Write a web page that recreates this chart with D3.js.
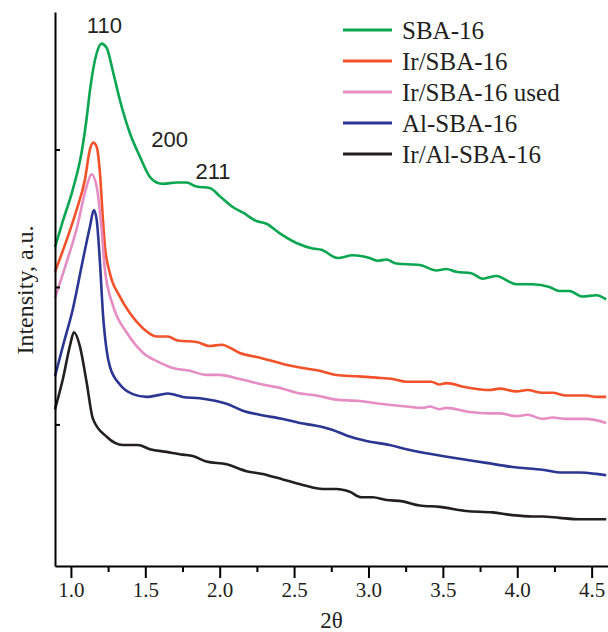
<!DOCTYPE html>
<html>
<head>
<meta charset="utf-8">
<script src="https://cdn.jsdelivr.net/npm/d3@7"></script>
<style>
  body { margin: 0; background: #fff; }
  svg { display: block; }
</style>
</head>
<body>
<svg width="608" height="632"></svg>
<script>
// [2theta, intensity], intensity in a.u.
const sba16 = [
  [0.893, 2.29], [0.946, 2.48], [1.013, 2.71], [1.072, 2.98], [1.105, 3.22], [1.128, 3.43],
  [1.173, 3.70], [1.206, 3.77], [1.240, 3.74], [1.284, 3.56], [1.329, 3.36], [1.396, 3.12],
  [1.463, 2.95], [1.531, 2.80], [1.576, 2.76], [1.620, 2.75], [1.710, 2.76], [1.777, 2.76],
  [1.844, 2.73], [1.933, 2.72], [2.001, 2.66], [2.090, 2.58], [2.157, 2.54], [2.247, 2.48],
  [2.314, 2.46], [2.404, 2.39], [2.516, 2.32], [2.625, 2.28], [2.684, 2.27], [2.793, 2.21],
  [2.894, 2.23], [3.008, 2.21], [3.062, 2.19], [3.120, 2.20], [3.187, 2.17], [3.344, 2.16],
  [3.456, 2.12], [3.523, 2.13], [3.590, 2.11], [3.691, 2.10], [3.767, 2.06], [3.859, 2.08],
  [3.993, 2.02], [4.103, 2.02], [4.217, 2.00], [4.284, 1.97], [4.351, 1.97], [4.439, 1.93],
  [4.531, 1.94], [4.598, 1.91]
];

const irSba16 = [
  [0.893, 2.11], [0.971, 2.34], [1.038, 2.56], [1.094, 2.78], [1.128, 3.00], [1.150, 3.05],
  [1.173, 3.02], [1.195, 2.83], [1.215, 2.49], [1.228, 2.30], [1.262, 2.10], [1.329, 1.93],
  [1.396, 1.81], [1.484, 1.70], [1.576, 1.64], [1.651, 1.64], [1.719, 1.61], [1.844, 1.60],
  [1.934, 1.57], [2.012, 1.58], [2.135, 1.52], [2.289, 1.48], [2.424, 1.44], [2.558, 1.41],
  [2.672, 1.39], [2.784, 1.36], [2.919, 1.35], [3.053, 1.34], [3.163, 1.33], [3.255, 1.31],
  [3.364, 1.31], [3.422, 1.31], [3.478, 1.29], [3.523, 1.30], [3.657, 1.27], [3.814, 1.25],
  [3.881, 1.26], [3.993, 1.24], [4.069, 1.25], [4.170, 1.23], [4.237, 1.23], [4.329, 1.21],
  [4.463, 1.21], [4.531, 1.20], [4.598, 1.20]
];

const irSba16Used = [
  [0.893, 1.92], [0.971, 2.18], [1.038, 2.42], [1.105, 2.73], [1.139, 2.82], [1.173, 2.73],
  [1.206, 2.42], [1.228, 2.13], [1.284, 1.86], [1.374, 1.67], [1.486, 1.52], [1.598, 1.45],
  [1.685, 1.41], [1.799, 1.39], [1.911, 1.36], [2.001, 1.36], [2.135, 1.33], [2.289, 1.29],
  [2.424, 1.26], [2.516, 1.23], [2.650, 1.21], [2.784, 1.18], [2.941, 1.17], [3.075, 1.15],
  [3.255, 1.13], [3.364, 1.12], [3.411, 1.13], [3.478, 1.11], [3.523, 1.12], [3.680, 1.09],
  [3.814, 1.08], [3.881, 1.08], [3.993, 1.06], [4.069, 1.07], [4.170, 1.04], [4.237, 1.05],
  [4.329, 1.04], [4.463, 1.04], [4.598, 1.01]
];

const alSba16 = [
  [0.893, 1.35], [0.946, 1.57], [1.013, 1.84], [1.081, 2.20], [1.128, 2.44], [1.154, 2.56],
  [1.173, 2.49], [1.195, 2.18], [1.215, 1.81], [1.240, 1.54], [1.262, 1.42], [1.329, 1.29],
  [1.416, 1.22], [1.508, 1.20], [1.598, 1.215], [1.651, 1.225], [1.752, 1.20], [1.866, 1.19],
  [2.046, 1.15], [2.155, 1.10], [2.269, 1.07], [2.424, 1.04], [2.538, 1.01], [2.650, 0.99],
  [2.760, 0.96], [2.852, 0.92], [2.986, 0.88], [3.142, 0.85], [3.255, 0.82], [3.389, 0.79],
  [3.613, 0.75], [3.792, 0.72], [3.968, 0.69], [4.170, 0.67], [4.304, 0.65], [4.418, 0.65],
  [4.531, 0.64], [4.598, 0.63]
];

const irAlSba16 = [
  [0.893, 1.11], [0.946, 1.33], [0.993, 1.57], [1.020, 1.67], [1.060, 1.57], [1.105, 1.31],
  [1.148, 1.04], [1.240, 0.91], [1.349, 0.85], [1.450, 0.85], [1.531, 0.82], [1.643, 0.80],
  [1.752, 0.78], [1.819, 0.77], [1.911, 0.73], [2.046, 0.71], [2.180, 0.66], [2.289, 0.64],
  [2.424, 0.60], [2.558, 0.56], [2.692, 0.53], [2.784, 0.53], [2.874, 0.51], [2.952, 0.47],
  [3.028, 0.47], [3.120, 0.45], [3.230, 0.44], [3.344, 0.41], [3.478, 0.40], [3.657, 0.37],
  [3.834, 0.36], [3.968, 0.34], [4.103, 0.33], [4.170, 0.33], [4.284, 0.32], [4.418, 0.31],
  [4.598, 0.31]
];

const seriesNames = ['SBA-16', 'Ir/SBA-16', 'Ir/SBA-16 used', 'Al-SBA-16', 'Ir/Al-SBA-16'];
const seriesData = [sba16, irSba16, irSba16Used, alSba16, irAlSba16];
const seriesColors = ['#0aa650', '#f2512a', '#e68dc3', '#2b3593', '#231f20'];

const peakLabels = ['110', '200', '211'];
const peakPositions = [[1.225, 3.85], [1.664, 3.02], [1.955, 2.785]];

const xTicks = [1.0, 1.5, 2.0, 2.5, 3.0, 3.5, 4.0, 4.5];
const xMinorTicks = [1.25, 1.75, 2.25, 2.75, 3.25, 3.75, 4.25];

const svg = d3.select('svg'),
      margin = {top: 12, right: 0, bottom: 66, left: 55},
      width = +svg.attr('width') - margin.left - margin.right,
      height = +svg.attr('height') - margin.top - margin.bottom,
      g = svg.append('g').attr('transform', `translate(${margin.left}, ${margin.top})`);

const x = d3.scaleLinear()
  .domain([0.893, 4.61])
  .range([0, width]);

const y = d3.scaleLinear()
  .domain([-0.03, 4])
  .range([height, 0]);

const line = d3.line()
  .x(d => x(d[0]))
  .y(d => y(d[1]))
  .curve(d3.curveMonotoneX);

// curves
g.append('g').selectAll('path')
  .data(seriesData)
  .enter().append('path')
    .attr('fill', 'none')
    .attr('stroke', (d, i) => seriesColors[i])
    .attr('stroke-width', 2.6)
    .attr('stroke-linejoin', 'round')
    .attr('d', line);

// x axis, major + minor
const xAxis = g.append('g')
  .attr('transform', `translate(0, ${height})`)
  .call(d3.axisBottom(x).tickValues(xTicks).tickFormat(d3.format('.1f'))
    .tickSize(12).tickSizeOuter(0).tickPadding(4));

g.append('g')
  .attr('transform', `translate(0, ${height})`)
  .call(d3.axisBottom(x).tickValues(xMinorTicks).tickFormat('').tickSize(6).tickSizeOuter(0))
  .select('.domain').remove();

// y axis, no labels, ticks pointing in
g.append('g')
  .call(d3.axisLeft(y).tickValues([1, 2, 3]).tickFormat('').tickSize(-5).tickSizeOuter(0));

g.selectAll('.domain').attr('stroke', '#000').attr('stroke-width', 2);
g.selectAll('.tick line').attr('stroke', '#000').attr('stroke-width', 2);
xAxis.selectAll('text')
  .attr('font-family', '"Liberation Serif", "Times New Roman", serif')
  .attr('font-size', 21)
  .attr('fill', '#231f20');

svg.append('text')
  .attr('x', margin.left + width / 2)
  .attr('y', 628)
  .attr('text-anchor', 'middle')
  .attr('font-family', '"Liberation Serif", "Times New Roman", serif')
  .attr('font-size', 23)
  .attr('fill', '#231f20')
  .text('2θ');

svg.append('text')
  .attr('transform', `translate(33, 290) rotate(-90)`)
  .attr('text-anchor', 'middle')
  .attr('font-family', '"Liberation Serif", "Times New Roman", serif')
  .attr('font-size', 24)
  .attr('fill', '#231f20')
  .text('Intensity, a.u.');

// peak indices
g.selectAll('.peak')
  .data(peakLabels)
  .enter().append('text')
    .attr('class', 'peak')
    .attr('x', (d, i) => x(peakPositions[i][0]))
    .attr('y', (d, i) => y(peakPositions[i][1]))
    .attr('text-anchor', 'middle')
    .attr('font-family', '"Liberation Sans", Arial, sans-serif')
    .attr('font-size', 22)
    .attr('fill', '#231f20')
    .text(d => d);

// legend
const legend = svg.append('g')
  .attr('transform', 'translate(343, 30)');

const item = legend.selectAll('g')
  .data(seriesNames)
  .enter().append('g')
    .attr('transform', (d, i) => `translate(0, ${i * 31})`);

item.append('line')
  .attr('x1', 0).attr('x2', 49)
  .attr('stroke', (d, i) => seriesColors[i])
  .attr('stroke-width', 2.8);

item.append('text')
  .attr('x', 59)
  .attr('y', 8.5)
  .attr('font-family', '"Liberation Serif", "Times New Roman", serif')
  .attr('font-size', 25)
  .attr('fill', '#231f20')
  .text(d => d);
</script>
</body>
</html>
